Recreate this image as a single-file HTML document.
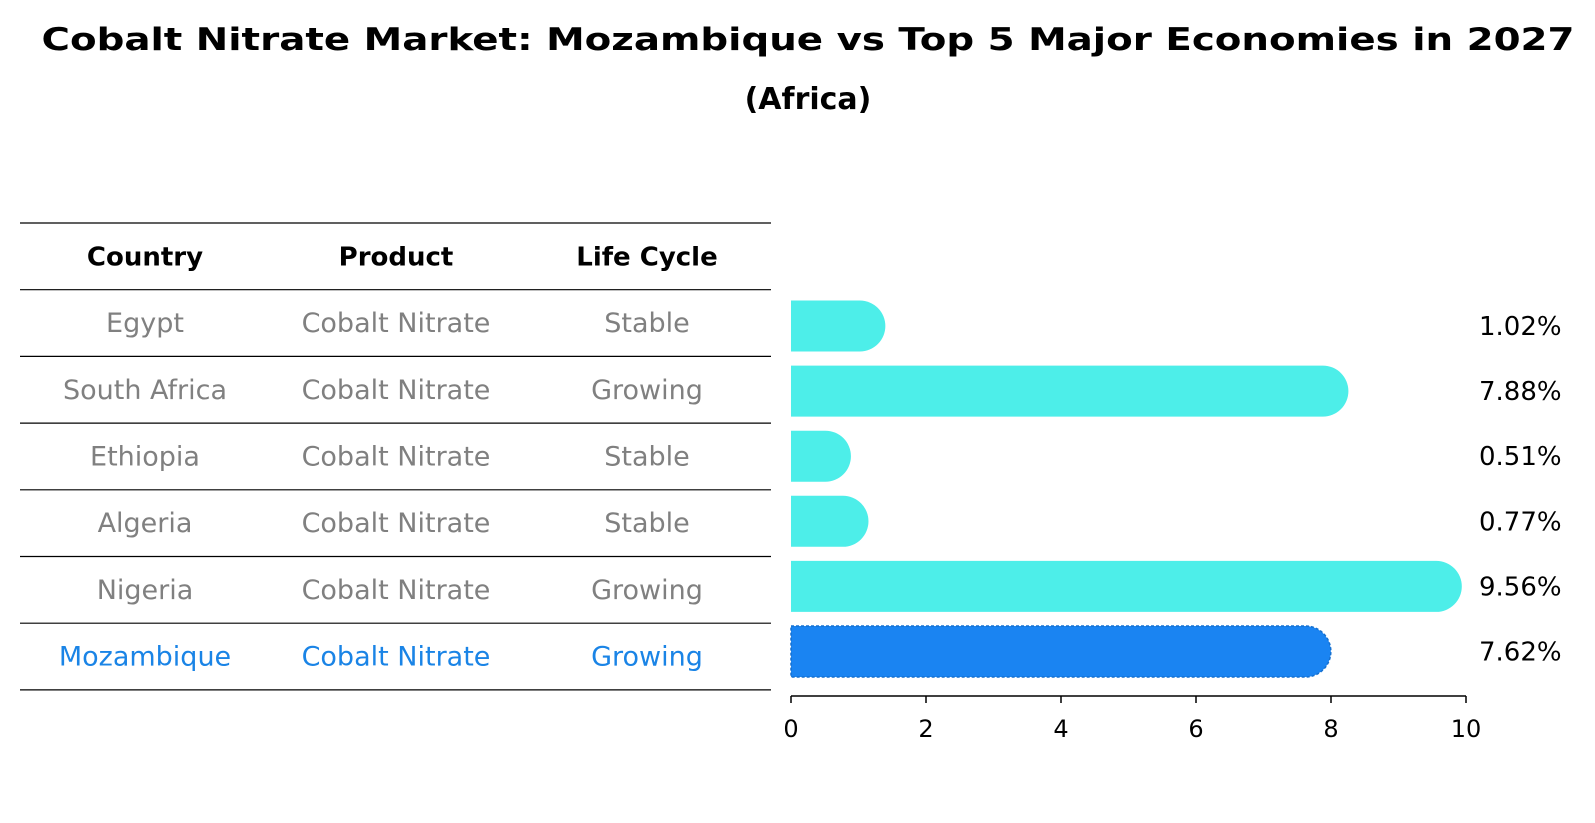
<!DOCTYPE html>
<html><head><meta charset="utf-8"><style>
html,body{margin:0;padding:0;background:#fff;}
svg{display:block;font-family:"DejaVu Sans","Liberation Sans",sans-serif;}
</style></head><body>
<svg id="c" width="1595" height="823" viewBox="0 0 1595 823">
<text x="808" y="50" text-anchor="middle" font-size="31" font-weight="bold" textLength="1533" lengthAdjust="spacingAndGlyphs">Cobalt Nitrate Market: Mozambique vs Top 5 Major Economies in 2027</text>
<text x="808" y="109" text-anchor="middle" font-size="30" font-weight="bold">(Africa)</text>
<g id="table"></g>
<g id="bars"></g>
<g id="axis"></g>
</svg>
<script>
const countries=["Egypt","South Africa","Ethiopia","Algeria","Nigeria","Mozambique"];
const products=["Cobalt Nitrate","Cobalt Nitrate","Cobalt Nitrate","Cobalt Nitrate","Cobalt Nitrate","Cobalt Nitrate"];
const lifecycles=["Stable","Growing","Stable","Stable","Growing","Growing"];
const values=[1.02,7.88,0.51,0.77,9.56,7.62];
const ticks=[0,2,4,6,8,10];
const NS="http://www.w3.org/2000/svg";
function mk(t,a,p){const e=document.createElementNS(NS,t);for(const k in a)e.setAttribute(k,a[k]);p.appendChild(e);return e;}
const X0=791,X1=1466,xs=v=>X0+(X1-X0)*v/10;
const rowTop=223,rowH=66.7;
const yc=i=>rowTop+rowH*(i+1.5);
const bc=i=>326+65.1*i;
const tbl=document.getElementById('table');
for(let k=0;k<=countries.length+1;k++){
  const l=mk('line',{x1:20,x2:771,y1:rowTop+rowH*k,y2:rowTop+rowH*k,stroke:'#000','stroke-width':1.2},tbl);
  
  
}
const cols=[145,396,647];
["Country","Product","Life Cycle"].forEach((h,j)=>{
  const t=mk('text',{x:cols[j],y:rowTop+rowH*0.5+9,'text-anchor':'middle','font-size':26,'font-weight':'bold'},tbl);
  t.textContent=h;
  
  
});
countries.forEach((c,i)=>{
  const col=i===countries.length-1?'#1a84e6':'#808080';
  [c,products[i],lifecycles[i]].forEach((s,j)=>{
    const t=mk('text',{x:cols[j],y:yc(i)+9,'text-anchor':'middle','font-size':27,fill:col},tbl);
    t.textContent=s;
    
    
  });
});
const bars=document.getElementById('bars');
const bh=51,r=25.5;
values.forEach((v,i)=>{
  const last=i===values.length-1;
  const y=bc(i)-bh/2;
  const w=xs(v)-X0;
  const p=`M${X0},${y} H${X0+w} A${r},${r} 0 0 1 ${X0+w},${y+bh} H${X0} Z`;
  const b=mk('path',{d:p,fill:last?'#1a84f2':'#4deee9',stroke:last?'#1570d0':'none','stroke-width':last?1.5:0,'stroke-dasharray':last?'3 2':''},bars);
  
  
  const t=mk('text',{x:1479,y:bc(i)+9,'font-size':26},bars);
  t.textContent=v.toFixed(2)+'%';
  
  
});
const ax=document.getElementById('axis');
const al=mk('line',{x1:X0,x2:X1,y1:696,y2:696,stroke:'#000','stroke-width':1.5},ax);


ticks.forEach(tv=>{
  const l=mk('line',{x1:xs(tv),x2:xs(tv),y1:696,y2:703,stroke:'#000','stroke-width':1.5},ax);
  
  
  const t=mk('text',{x:xs(tv),y:737,'text-anchor':'middle','font-size':24},ax);
  t.textContent=tv;
  
  
});
</script>
</body></html>
